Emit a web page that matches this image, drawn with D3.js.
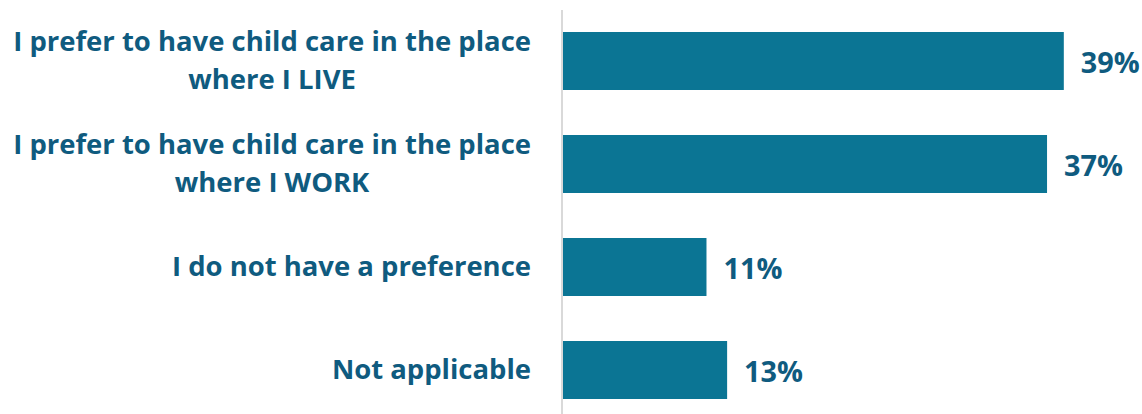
<!DOCTYPE html>
<html lang='en'>
	<head>
		<meta charset='UTF-8'>
		<title>Child care location preference</title>
		<style>
			body { margin: 0; background: #fff; }
			text { font-family: 'Open Sans', 'Noto Sans', sans-serif; font-weight: 700; }
		</style>
	</head>
	<body>
		<svg id='graph' width='1142' height='414'></svg>

		<script src='https://d3js.org/d3.v7.min.js'></script>
		<script>
			const categories = [
				['I prefer to have child care in the place', 'where I LIVE'],
				['I prefer to have child care in the place', 'where I WORK'],
				['I do not have a preference'],
				['Not applicable']
			]
			const values = [38.9, 37.6, 11.2, 12.8]
			const valueLabels = ['39%', '37%', '11%', '13%']

			const height = 414
			const axisX = 562
			const labelRight = 531

			const svg = d3.select('#graph')

			const xScale = d3.scaleLinear()
				.domain([0, 40])
				.range([axisX, axisX + 516])

			// bars are about 58px tall, step about 103px
			const band = d3.scaleBand()
				.domain(d3.range(categories.length))
				.range([11.4, 419.6])
				.paddingInner(0.437)
				.paddingOuter(0.2)

			svg.selectAll('rect.bar')
				.data(values)
				.enter()
				.append('rect')
				.attr('class', 'bar')
				.attr('x', xScale(0))
				.attr('y', (d, i) => band(i))
				.attr('height', band.bandwidth())
				.attr('width', (d) => xScale(d) - xScale(0))
				.attr('fill', '#0b7594')

			svg.append('line')
				.attr('x1', axisX).attr('x2', axisX)
				.attr('y1', 10).attr('y2', height)
				.attr('stroke', '#d9d9d9')
				.attr('stroke-width', 2)

			// fit font size to the reference label width
			const probe = svg.append('text').attr('font-size', 100).text(categories[0][0])
			const fontSize = 100 * 518 / probe.node().getComputedTextLength()
			probe.remove()

			const lineGap = 38
			const labels = svg.selectAll('text.cat')
				.data(categories)
				.enter()
				.append('text')
				.attr('class', 'cat')
				.attr('text-anchor', 'middle')
				.attr('fill', '#0f5b7f')
				.attr('font-size', fontSize)

			// lines are centred on each other, the block is right aligned
			labels.each(function (lines, i) {
				const c = band(i) + band.bandwidth() / 2
				const first = c + 9 - (lines.length - 1) * lineGap / 2
				const spans = d3.select(this).selectAll('tspan')
					.data(lines)
					.enter()
					.append('tspan')
					.attr('y', (l, j) => first + j * lineGap)
					.text((l) => l)
				const w = d3.max(spans.nodes(), (n) => n.getComputedTextLength())
				spans.attr('x', labelRight - w / 2)
			})

			svg.selectAll('text.val')
				.data(values)
				.enter()
				.append('text')
				.attr('class', 'val')
				.attr('x', (d) => xScale(d) + 17)
				.attr('y', (d, i) => band(i) + band.bandwidth() / 2 + 12)
				.attr('fill', '#0f5b7f')
				.attr('font-size', fontSize * 1.05)
				.text((d, i) => valueLabels[i])
		</script>
	</body>
</html>
